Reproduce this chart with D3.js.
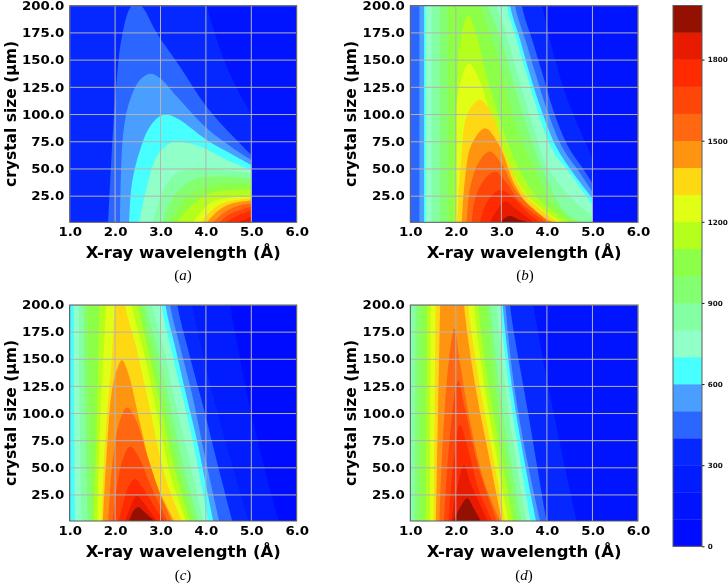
<!DOCTYPE html>
<html><head><meta charset="utf-8">
<script src="https://cdn.jsdelivr.net/npm/d3@7/dist/d3.min.js"></script>
<style>html,body{margin:0;padding:0;background:#fff}svg{display:block;filter:blur(0.35px)}</style>
</head><body><svg id="c" width="728" height="583"></svg>
<script>
// ---------- values ----------
const levels = d3.range(0, 2000, 100);
const levelColors = ["#000cff","#0014ff","#001cff","#0428ff","#2a66ff","#4a9eff","#48ffff","#90ffc8","#84ffa4","#84ff70",
  "#8cff48","#b4ff1c","#e0ff14","#ffd814","#ff9410","#ff6810","#ff4608","#ff2a00","#e81a00","#941000"];
const xTickValues = [1,2,3,4,5,6];
const yTickValues = [25,50,75,100,125,150,175,200];
const barTickValues = [0,300,600,900,1200,1500,1800];
const xDomain = [1,6], yDomain = [1,200], barDomain = [0,2000];

// each row: [lower level of filled region, boundary pieces (wavelength Å, size µm)]
const panelA = [
 [300,[[0.9,1],[0.9,230]],[[3.9,230],[4.02,200],[4.5,140],[5,100]],[[5,100],[5,1]]],
 [400,[[1.85,1],[2.0,113.5],[2.15,171.8],[2.33,197.9],[2.48,203],[2.62,198],[2.92,174.8],[3.43,144],[4.02,107],[4.6,79.8],[5,62.9]],[[5,62.9],[5,1]]],
 [500,[[2.11,1],[2.18,82.8],[2.33,113.5],[2.55,131.9],[2.77,137.4],[2.99,133.4],[3.36,116.6],[4.02,87.4],[4.6,69],[5,58.3]],[[5,58.3],[5,1]]],
 [600,[[2.31,1],[2.37,36.8],[2.55,67.5],[2.77,89],[3.06,99.7],[3.36,96.6],[4.02,76.7],[4.6,62.9],[5,53.7]],[[5,53.7],[5,1]]],
 [700,[[2.53,1],[2.7,33.7],[2.92,61.4],[3.21,73.6],[3.43,75],[3.87,70.6],[4.46,58.3],[5,49]],[[5,49],[5,1]]],
 [800,[[2.84,1],[3.06,30.7],[3.36,46],[3.87,50.6],[4.46,49],[5,46]],[[5,46],[5,1]]],
 [900,[[3.06,1],[3.28,24.5],[3.72,40],[4.46,43],[5,41]],[[5,41],[5,1]]],
 [1000,[[3.21,1],[3.58,24.5],[4.02,33.7],[4.6,37],[5,36]],[[5,36],[5,1]]],
 [1100,[[3.36,1],[3.65,15],[4.09,27.6],[5,31]],[[5,31],[5,1]]],
 [1200,[[3.72,1],[3.92,12],[4.2,21],[5,25]],[[5,25],[5,1]]],
 [1300,[[3.9,1],[4.1,11],[4.4,19],[5,23]],[[5,23],[5,1]]],
 [1400,[[4.02,1],[4.25,11],[4.55,18],[5,21]],[[5,21],[5,1]]],
 [1500,[[4.16,1],[4.4,10],[4.7,16],[5,18.4]],[[5,18.4],[5,1]]],
 [1600,[[4.3,1],[4.5,8],[5,15.5]],[[5,15.5],[5,1]]],
 [1700,[[4.45,1],[4.7,7],[5,12]],[[5,12],[5,1]]],
 [1800,[[4.7,1],[5,6]],[[5,6],[5,1]]]
];
const panelB = [
 [300,[[0.9,1],[0.9,230]],[[3.8,230],[3.9,200],[4.4,120],[5,60]],[[5,60],[5,1]]],
 [400,[[1.0,1],[1.0,230]],[[3.4,230],[3.45,200],[3.70,165.6],[3.92,135],[4.14,104],[4.46,71],[4.83,48],[5,37]],[[5,37],[5,1]]],
 [500,[[1.2,1],[1.2,230]],[[3.25,230],[3.30,200],[3.55,165.6],[3.77,135],[4.03,101],[4.36,68],[4.73,46],[5,29]],[[5,29],[5,1]]],
 [600,[[1.3,1],[1.3,230]],[[3.14,230],[3.19,200],[3.41,169],[3.66,132],[3.88,104],[4.21,70],[4.58,46],[5,23]],[[5,23],[5,1]]],
 [700,[[1.34,1],[1.34,230]],[[3.07,230],[3.12,200],[3.33,169],[3.59,132],[3.81,101],[4.14,66],[4.47,48],[5,17]],[[5,17],[5,1]]],
 [800,[[1.47,1],[1.47,230]],[[2.8,230],[2.9,200],[3.12,172],[3.41,129],[3.70,89],[4.0,52],[4.58,21.5],[5,6]],[[5,6],[5,1]]],
 [900,[[1.65,1],[1.65,230]],[[2.6,230],[2.72,200],[2.97,172],[3.33,120],[3.63,80],[4.0,40],[4.43,9],[4.8,1]]],
 [1000,[[1.83,1],[1.83,230]],[[2.42,230],[2.55,200],[2.95,150],[3.26,98],[3.7,52],[4.14,18],[4.65,1]]],
 [1100,[[1.97,1],[2.02,113],[2.09,165],[2.27,191],[2.46,172],[2.68,135],[2.97,95],[3.33,55],[3.77,25],[4.47,1]]],
 [1200,[[1.99,1],[2.01,70],[2.05,120],[2.29,147],[2.52,132],[2.8,95],[3.15,55],[3.65,22],[4.33,1]]],
 [1300,[[2.03,1],[2.12,60],[2.25,100],[2.53,113.5],[2.8,100],[3.1,62],[3.55,25],[4.25,1]]],
 [1400,[[2.13,1],[2.2,40],[2.34,72],[2.64,87.4],[2.95,72],[3.3,35],[3.7,12],[4.14,1]]],
 [1500,[[2.24,1],[2.31,32],[2.5,56],[2.75,66],[3.0,55],[3.35,28],[4.06,1]]],
 [1600,[[2.35,1],[2.42,22],[2.62,40],[2.86,47.5],[3.1,38],[3.4,20],[3.99,1]]],
 [1700,[[2.53,1],[2.63,15],[2.82,27],[3.0,30.7],[3.25,24],[3.55,11],[3.85,1]]],
 [1800,[[2.75,1],[2.9,12],[3.08,20],[3.3,14],[3.71,1]]],
 [1900,[[2.97,1],[3.08,5],[3.19,7],[3.35,4],[3.59,1]]]
];
const panelC = [
 [200,[[0.9,1],[0.9,230]],[[4.4,230],[5.0,100],[5.6,1]]],
 [300,[[0.9,1],[0.9,230]],[[3.6,230],[3.7,200],[4.2,110],[4.94,1]]],
 [400,[[0.9,1],[0.9,230]],[[3.3,230],[3.37,200],[3.61,158.6],[3.94,106.4],[4.27,51.2],[4.58,1]]],
 [500,[[0.9,1],[0.9,230]],[[3.15,230],[3.21,200],[3.43,161.7],[3.69,118.7],[3.98,60.4],[4.29,1]]],
 [600,[[0.9,1],[0.9,230]],[[3.06,230],[3.11,200],[3.32,161.7],[3.54,121.8],[3.80,75.8],[4.16,1]]],
 [700,[[1.12,1],[1.10,100],[1.09,230]],[[2.97,230],[3.02,200],[3.22,161.7],[3.43,124.8],[3.69,78.8],[4.05,1]]],
 [800,[[1.26,1],[1.22,100],[1.20,230]],[[2.76,230],[2.81,200],[3.06,161.7],[3.28,118.7],[3.58,66.6],[3.94,1]]],
 [900,[[1.40,1],[1.34,100],[1.30,230]],[[2.63,230],[2.68,200],[2.92,161.7],[3.17,115.6],[3.47,57.4],[3.83,1]]],
 [1000,[[1.50,1],[1.44,100],[1.38,230]],[[2.54,230],[2.59,200],[2.84,155.5],[3.06,115.6],[3.36,57.4],[3.74,1]]],
 [1100,[[1.53,1],[1.60,100],[1.67,230]],[[2.46,230],[2.51,200],[2.73,158.6],[2.99,109.5],[3.32,48.2],[3.65,1]]],
 [1200,[[1.61,1],[1.68,100],[1.85,230]],[[2.32,230],[2.37,200],[2.62,158.6],[2.88,109.5],[3.21,45],[3.56,1]]],
 [1300,[[1.70,1],[1.78,75.8],[1.93,152.5],[2.0,200],[2.1,230]],[[2.17,230],[2.22,200],[2.48,158.6],[2.77,103.4],[3.10,42],[3.47,1]]],
 [1400,[[1.73,1],[1.81,60],[1.96,128],[2.15,149],[2.29,137],[2.55,91],[2.84,42],[3.30,1]]],
 [1500,[[1.85,1],[1.93,50],[2.08,90],[2.26,105.5],[2.45,95],[2.72,60],[3.0,25],[3.25,1]]],
 [1600,[[1.95,1],[2.03,30],[2.17,58],[2.33,69.6],[2.52,60],[2.8,32],[3.15,1]]],
 [1700,[[2.08,1],[2.17,16],[2.30,33],[2.44,39.6],[2.6,32],[2.9,12],[3.08,1]]],
 [1800,[[2.22,1],[2.36,16],[2.48,24],[2.62,18],[2.92,1]]],
 [1900,[[2.31,1],[2.40,10],[2.51,14],[2.63,10],[2.86,1]]]
];
const panelD = [
 [300,[[0.9,1],[0.9,230]],[[3.6,230],[3.7,200],[4.15,100],[4.65,1]]],
 [400,[[0.9,1],[0.9,230]],[[3.16,230],[3.19,200],[3.59,100],[3.99,1]]],
 [500,[[0.9,1],[0.9,230]],[[3.06,230],[3.09,200],[3.30,120],[3.55,60],[3.85,1]]],
 [600,[[0.9,1],[0.9,230]],[[3.0,230],[3.03,200],[3.25,120],[3.49,60],[3.76,1]]],
 [700,[[0.9,1],[0.9,230]],[[2.94,230],[2.97,200],[3.18,120],[3.40,60],[3.64,1]]],
 [800,[[1.02,1],[1.02,230]],[[2.87,230],[2.90,200],[3.10,120],[3.31,60],[3.55,1]]],
 [900,[[1.10,1],[1.12,230]],[[2.73,230],[2.76,200],[2.97,120],[3.19,60],[3.44,1]]],
 [1000,[[1.2,1],[1.25,230]],[[2.65,230],[2.68,200],[2.88,120],[3.10,60],[3.35,1]]],
 [1100,[[1.34,1],[1.37,230]],[[2.46,230],[2.49,200],[2.74,120],[3.0,60],[3.26,1]]],
 [1200,[[1.43,1],[1.44,230]],[[2.37,230],[2.40,200],[2.65,120],[2.9,60],[3.15,1]]],
 [1300,[[1.51,1],[1.56,230]],[[2.24,230],[2.27,200],[2.55,120],[2.82,60],[3.08,1]]],
 [1400,[[1.56,1],[1.67,230]],[[2.15,230],[2.18,200],[2.45,120],[2.73,60],[3.01,1]]],
 [1500,[[1.64,1],[1.72,80],[1.85,150],[1.97,178.5],[2.08,150],[2.30,95],[2.60,40],[2.97,1]]],
 [1600,[[1.74,1],[1.85,70],[2.05,130.4],[2.20,105],[2.50,50],[2.90,1]]],
 [1700,[[1.84,1],[1.95,55],[2.09,89.6],[2.25,70],[2.50,30],[2.80,1]]],
 [1800,[[1.90,1],[2.02,30],[2.18,52.5],[2.33,35],[2.70,1]]],
 [1900,[[1.94,1],[2.10,14],[2.25,22],[2.40,12],[2.55,1]]]
];
const captions = ["a","b","c","d"];
const panelData = [panelA,panelB,panelC,panelD];
const xLabel = "X-ray wavelength (Å)";
const yLabel = "crystal size (µm)";

// ---------- layout ----------
const boxes = [
 {l:69.7,r:296.7,t:5.7,b:222.3,cx:183,cy:280,ly:15.7},
 {l:410.3,r:638,t:5.7,b:222.3,cx:525,cy:280,ly:355.7},
 {l:69.7,r:296.7,t:305,b:521,cx:183,cy:580,ly:15.7},
 {l:410.3,r:638,t:305,b:521,cx:524,cy:580,ly:355.7}
];
const svg = d3.select("#c");
const FONT = "'DejaVu Sans'";
const color = d3.scaleOrdinal().domain(levels).range(levelColors);
const GRID = "#b4b4b4", SPINE = "#5a5a5a";
const stretch = (sel,k)=>sel.each(function(){
  const w=this.getComputedTextLength();
  d3.select(this).attr("textLength",w*k).attr("lengthAdjust","spacingAndGlyphs");
});

panelData.forEach((regions,i)=>{
  const b = boxes[i];
  const x = d3.scaleLinear().domain(xDomain).range([b.l,b.r]);
  const y = d3.scaleLinear().domain(yDomain).range([b.b,b.t]);
  const line = d3.line().x(d=>x(d[0])).y(d=>y(d[1])).curve(d3.curveCatmullRom.alpha(0.5));
  const id = "clip"+i;
  svg.append("clipPath").attr("id",id).append("rect")
    .attr("x",b.l).attr("y",b.t).attr("width",b.r-b.l).attr("height",b.b-b.t);
  const g = svg.append("g");
  const plot = g.append("g").attr("clip-path",`url(#${id})`);
  plot.append("rect").attr("x",b.l).attr("y",b.t).attr("width",b.r-b.l).attr("height",b.b-b.t)
    .attr("fill",color(i===0||i===1||i===3?100:0));
  plot.selectAll("path.band").data(regions).join("path").attr("class","band")
    .attr("fill",d=>color(d[0]))
    .attr("d",d=>d.slice(1).map((seg,k)=>{
       const s=line(seg); return k? "L"+s.slice(1):s;
    }).join("")+"Z");
  plot.selectAll("line.gx").data(xTickValues).join("line").attr("class","gx")
    .attr("x1",d=>x(d)).attr("x2",d=>x(d)).attr("y1",b.t).attr("y2",b.b)
    .attr("stroke",GRID).attr("stroke-width",1);
  plot.selectAll("line.gy").data(yTickValues).join("line").attr("class","gy")
    .attr("y1",d=>y(d)).attr("y2",d=>y(d)).attr("x1",b.l).attr("x2",b.r)
    .attr("stroke",GRID).attr("stroke-width",1);
  const ax = g.append("g").attr("transform",`translate(0,${b.b})`)
    .call(d3.axisBottom(x).tickValues(xTickValues).tickFormat(d3.format(".1f")).tickSize(0).tickPadding(6));
  const ay = g.append("g").attr("transform",`translate(${b.l},0)`)
    .call(d3.axisLeft(y).tickValues(yTickValues).tickFormat(d3.format(".1f")).tickSize(0).tickPadding(5.5));
  [ax,ay].forEach(a=>{
    a.select(".domain").remove();
    a.selectAll("text").attr("font-family",FONT).attr("font-weight","bold").attr("font-size",11.5).attr("fill","#000")
      .call(stretch,1.16);
  });
  g.append("rect").attr("x",b.l).attr("y",b.t).attr("width",b.r-b.l).attr("height",b.b-b.t)
    .attr("fill","none").attr("stroke",SPINE).attr("stroke-width",1);
  g.append("text").attr("x",(b.l+b.r)/2).attr("y",b.b+35.5).attr("text-anchor","middle")
    .attr("font-family",FONT).attr("font-weight","bold").attr("font-size",15.5)
    .attr("textLength",195).attr("lengthAdjust","spacingAndGlyphs").text(xLabel);
  g.append("text").attr("transform",`translate(${b.ly},${(b.t+b.b)/2}) rotate(-90)`).attr("text-anchor","middle")
    .attr("font-family",FONT).attr("font-weight","bold").attr("font-size",15)
    .attr("textLength",146).attr("lengthAdjust","spacingAndGlyphs").text(yLabel);
  const cap = g.append("text").attr("x",b.cx).attr("y",b.cy).attr("text-anchor","middle")
    .attr("font-family","'Liberation Serif'").attr("font-size",15);
  cap.append("tspan").text("(");
  cap.append("tspan").attr("font-style","italic").text(captions[i]);
  cap.append("tspan").text(")");
});

// colourbar
const barL=673, barR=702;
const barY = d3.scaleLinear().domain(barDomain).range([546.3,5.5]);
const barG = svg.append("g");
barG.selectAll("rect.s").data(levels).join("rect").attr("class","s")
  .attr("x",barL).attr("width",barR-barL)
  .attr("y",d=>barY(d+100)).attr("height",d=>barY(d)-barY(d+100)+0.3)
  .attr("fill",d=>color(d));
barG.append("rect").attr("x",barL).attr("y",barY(2000)).attr("width",barR-barL)
  .attr("height",barY(0)-barY(2000)).attr("fill","none").attr("stroke",SPINE).attr("stroke-width",1);
const barAxis = barG.append("g").attr("transform",`translate(${barR},0)`)
  .call(d3.axisRight(barY).tickValues(barTickValues).tickFormat(d3.format("d")).tickSize(2.5).tickPadding(3.2));
barAxis.select(".domain").remove();
barAxis.selectAll("line").attr("stroke","#222");
barAxis.selectAll("text").attr("font-family",FONT).attr("font-weight","bold").attr("font-size",7.2).attr("fill","#111");
</script></body></html>
